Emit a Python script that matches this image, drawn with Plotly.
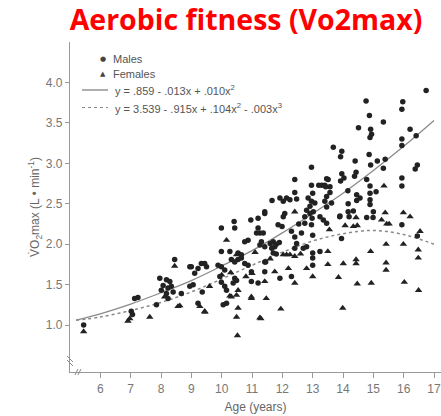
import plotly.graph_objects as go

# ---------------- data ----------------
male_age = [16.74, 15.97, 15.94, 14.76, 14.87, 15.33, 14.51, 14.91, 14.94, 14.89, 16.21, 16.41, 15.94, 15.94,
            13.68, 13.96, 13.92, 14.86, 14.40, 14.91, 15.13, 15.39, 15.33, 16.45, 16.38, 13.46, 13.96, 13.92,
            14.03, 14.43, 14.38, 13.20, 13.30, 13.40, 14.78, 14.89, 15.94, 15.94, 13.57, 14.16, 14.45, 14.56,
            14.45, 14.89, 15.09, 14.89, 14.17, 14.89, 13.46, 14.34,
            13.51, 13.43, 13.57, 13.46, 13.40, 13.62, 12.91, 13.02, 12.80, 13.90, 13.24,
            12.96, 12.41, 12.96, 13.00, 12.41, 12.47, 12.14, 12.25, 12.03, 11.66, 12.85, 12.96, 13.07, 11.42, 11.92,
            15.94, 15.00, 14.78, 14.99, 14.17, 14.20, 13.89, 13.35, 13.46, 13.95, 16.45, 13.24,
            11.42, 11.20, 10.96, 10.41, 10.43, 9.99, 11.20, 11.26, 11.37, 11.15, 12.08, 12.03, 12.74, 12.91, 12.98,
            12.96, 12.74, 12.54, 11.86, 11.99, 10.87, 10.76, 11.31, 11.26, 11.42, 11.60, 11.70, 11.80, 11.90, 11.65,
            11.75, 11.70, 11.80, 9.99, 10.27, 12.41, 12.47, 12.30, 12.63, 13.00, 12.41, 12.69, 12.80, 13.00, 13.00,
            13.00, 9.33, 9.44, 9.50, 9.22, 9.11, 9.88, 9.99, 10.10, 10.32, 10.43, 10.54, 10.65, 10.76, 10.87, 10.54,
            10.65, 10.98, 11.42, 11.45, 11.42, 10.98, 11.20, 11.92, 12.30, 10.16, 10.05, 9.94, 9.99, 10.10, 10.16,
            10.43, 10.49, 10.38, 9.36, 9.22,
            8.45, 8.95, 9.00, 7.96, 8.18, 8.29, 8.07, 8.23, 8.34, 8.01, 8.18, 8.23, 8.40, 8.67, 8.95, 9.06, 7.85,
            7.13, 7.24, 7.02, 7.06, 5.45]
male_vo2 = [3.90, 3.76, 3.67, 3.77, 3.59, 3.51, 3.44, 3.42, 3.36, 3.32, 3.42, 3.34, 3.30, 3.22,
            3.20, 3.15, 3.08, 3.11, 3.03, 2.98, 3.03, 3.05, 2.94, 2.98, 2.93, 2.81, 2.87, 2.78,
            2.82, 2.89, 2.84, 2.73, 2.73, 2.73, 2.80, 2.72, 2.82, 2.72, 2.64, 2.66, 2.61, 2.57,
            2.54, 2.63, 2.65, 2.55, 2.50, 2.49, 2.46, 2.41,
            2.80, 2.71, 2.71, 2.59, 2.53, 2.51, 2.47, 2.40, 2.42, 2.35, 2.34,
            2.95, 2.80, 2.73, 2.63, 2.64, 2.56, 2.57, 2.55, 2.53, 2.54, 2.57, 2.53, 2.51, 2.40, 2.57,
            2.24, 2.40, 2.33, 2.33, 2.40, 2.34, 2.34, 2.30, 2.26, 2.07, 2.10, 1.91,
            2.38, 2.32, 2.30, 2.28, 2.20, 2.20, 2.20, 2.14, 2.14, 2.14, 2.38, 2.34, 2.34, 2.38, 2.32,
            2.24, 2.26, 2.25, 2.24, 2.22, 2.05, 2.03, 2.03, 1.99, 1.97, 2.01, 2.03, 2.00, 2.02, 1.95,
            1.97, 1.89, 1.88, 1.91, 1.91, 2.09, 2.01, 2.16, 2.14, 2.11, 1.95, 1.95, 1.97, 1.89, 1.83,
            1.74, 1.76, 1.76, 1.72, 1.70, 1.64, 1.74, 1.72, 1.68, 1.81, 1.78, 1.81, 1.83, 1.76, 1.74, 1.89,
            1.87, 1.66, 1.78, 1.78, 1.66, 1.54, 1.52, 1.58, 1.60, 1.27, 1.25, 1.60, 1.53, 1.48, 1.43,
            1.58, 1.55, 1.52, 1.41, 1.27,
            1.81, 1.72, 1.72, 1.58, 1.56, 1.54, 1.49, 1.46, 1.48, 1.43, 1.39, 1.33, 1.41, 1.39, 1.48, 1.50, 1.25,
            1.33, 1.34, 1.17, 1.13, 1.00]

female_age = [15.35, 14.34, 14.47, 15.99, 16.21, 15.39, 15.27, 15.44, 15.52, 14.43, 14.07, 13.55, 16.54, 15.42,
              15.99, 16.48, 16.48, 14.91, 13.50, 14.43, 14.43, 14.01, 13.50, 15.42, 15.42, 13.85, 14.47, 14.93,
              16.02, 16.49, 13.99,
              12.41, 10.16, 12.03, 12.14, 12.25, 12.41, 13.00, 11.75, 11.47, 10.98, 11.42, 12.41, 11.95, 11.29,
              10.49, 10.52, 10.54, 10.27, 10.49, 10.54, 9.28, 9.44,
              8.45, 8.56, 7.63, 6.97, 6.91, 5.45, 8.12, 8.62, 9.45, 11.26, 10.98, 10.32, 10.49,
              11.10, 11.60, 12.60, 12.80, 12.20, 11.00, 10.80, 10.00, 9.60, 10.30]
female_vo2 = [2.72, 2.22, 2.23, 2.39, 2.34, 2.39, 2.30, 2.25, 2.25, 2.33, 2.23, 2.18, 2.16, 2.00,
              2.00, 1.93, 1.83, 1.91, 1.91, 1.81, 1.76, 1.76, 1.75, 1.77, 1.68, 1.59, 1.51, 1.52,
              1.53, 1.43, 1.21,
              2.40, 2.05, 1.87, 1.87, 1.87, 1.85, 1.60, 1.66, 1.33, 1.33, 1.54, 1.52, 1.20, 1.08,
              1.10, 0.87, 1.21, 1.36, 1.37, 1.43, 1.23, 1.17,
              1.73, 1.23, 1.10, 1.08, 1.05, 0.92, 1.35, 1.24, 1.16, 1.09, 1.35, 1.35, 1.87,
              1.90, 1.82, 1.88, 1.70, 1.70, 1.64, 1.60, 1.62, 1.48, 1.65]

# fitted curves as drawn in the picture
male_fit_age = [5.2, 6, 7, 8, 9, 10, 11, 12, 13, 14, 15, 16, 17]
male_fit_vo2 = [1.06, 1.14, 1.26, 1.40, 1.55, 1.73, 1.92, 2.14, 2.38, 2.63, 2.91, 3.21, 3.53]
female_fit_age = [5.2, 6, 7, 8, 9, 10, 11, 12, 13, 14, 15, 16, 17]
female_fit_vo2 = [1.06, 1.10, 1.18, 1.28, 1.41, 1.57, 1.74, 1.90, 2.04, 2.13, 2.17, 2.12, 2.00]

x_ticks = [6, 7, 8, 9, 10, 11, 12, 13, 14, 15, 16, 17]
y_ticks = [1.0, 1.5, 2.0, 2.5, 3.0, 3.5, 4.0]
y_tick_text = ["1.0", "1.5", "2.0", "2.5", "3.0", "3.5", "4.0"]

legend_labels = ["Males", "Females",
                 "y = .859 - .013x + .010x<sup>2</sup>",
                 "y = 3.539 - .915x + .104x<sup>2</sup> - .003x<sup>3</sup>"]

# ---------------- figure ----------------
# the page's default body margin is removed (post_script), so the figure fills the window
W, H = 441, 416
ML, MR, MT, MB = 70, 0, 42, 416 - 372
PW, PH = W - ML - MR, H - MT - MB

def px(xp):  # window pixel -> paper x
    return (xp - ML) / PW

def py(yp):  # window pixel -> paper y
    return (H - MB - yp) / PH

INK = "#222222"
fig = go.Figure()
fig.add_trace(go.Scatter(x=male_fit_age, y=male_fit_vo2, mode="lines", line_shape="spline",
                         line=dict(color="#8a8a8a", width=1.3), showlegend=False, hoverinfo="skip"))
fig.add_trace(go.Scatter(x=female_fit_age, y=female_fit_vo2, mode="lines", line_shape="spline",
                         line=dict(color="#8a8a8a", width=1.5, dash="dot"), showlegend=False, hoverinfo="skip"))
fig.add_trace(go.Scatter(x=female_age, y=female_vo2, mode="markers", name="Females",
                         marker=dict(symbol="triangle-up", size=6.5, color=INK), showlegend=False))
fig.add_trace(go.Scatter(x=male_age, y=male_vo2, mode="markers", name="Males",
                         marker=dict(symbol="circle", size=5.5, color=INK), showlegend=False))

annotations = []
shapes = []
lg_font = dict(family="Liberation Sans", size=11, color="#555555")
# legend markers
annotations.append(dict(x=px(103), y=py(59.5), xref="paper", yref="paper", text="●", showarrow=False,
                        font=dict(family="DejaVu Sans", size=7, color="#444444"),
                        xanchor="center", yanchor="middle"))
annotations.append(dict(x=px(103), y=py(73.5), xref="paper", yref="paper", text="▲", showarrow=False,
                        font=dict(family="DejaVu Sans", size=7, color="#444444"),
                        xanchor="center", yanchor="middle"))
rows_y = [59.5, 73.5, 90, 108]
text_x = [111, 111, 113, 113]
for lab, yy, xx in zip(legend_labels, rows_y, text_x):
    annotations.append(dict(x=px(xx), y=py(yy), xref="paper", yref="paper", text=lab, showarrow=False,
                            font=lg_font, xanchor="left", yanchor="middle"))
shapes.append(dict(type="line", xref="paper", yref="paper", x0=px(82), x1=px(108), y0=py(90), y1=py(90),
                   line=dict(color="#777777", width=1.2)))
shapes.append(dict(type="line", xref="paper", yref="paper", x0=px(82), x1=px(108), y0=py(107.5), y1=py(107.5),
                   line=dict(color="#888888", width=1.2, dash="dot")))

# axis break marks
shapes.append(dict(type="line", xref="paper", yref="paper", x0=px(67), x1=px(73), y0=py(356), y1=py(362),
                   line=dict(color="#888888", width=1)))
shapes.append(dict(type="line", xref="paper", yref="paper", x0=px(67), x1=px(73), y0=py(360), y1=py(366),
                   line=dict(color="#888888", width=1)))
shapes.append(dict(type="line", xref="paper", yref="paper", x0=px(75), x1=px(78), y0=py(375), y1=py(369),
                   line=dict(color="#888888", width=1)))
shapes.append(dict(type="line", xref="paper", yref="paper", x0=px(78), x1=px(81), y0=py(375), y1=py(369),
                   line=dict(color="#888888", width=1)))

fig.update_layout(
    width=W, height=H,
    margin=dict(l=ML, r=MR, t=MT, b=MB, autoexpand=False),
    paper_bgcolor="white", plot_bgcolor="white",
    title=dict(text="<b>Aerobic fitness (Vo2max)</b>", xref="container", yref="container",
               x=246 / W, y=1 - 20 / H, xanchor="center", yanchor="middle", automargin=False,
               font=dict(family="Open Sans", size=28.5, color="#ff0000")),
    xaxis=dict(range=[5.0, 17.23], tickvals=x_ticks, ticks="outside", ticklen=5, tickcolor="#999999",
               showline=True, linecolor="#999999", linewidth=1.2, showgrid=False, zeroline=False,
               automargin=False, ticklabeloverflow="allow",
               tickfont=dict(family="Liberation Sans", size=12, color="#777777"),
               title=dict(text="Age (years)", standoff=8,
                          font=dict(family="Liberation Sans", size=12, color="#666666"))),
    yaxis=dict(range=[0.42, 4.5], tickvals=y_ticks, ticktext=y_tick_text, ticks="outside", ticklen=4,
               tickcolor="#999999", showline=True, linecolor="#999999", linewidth=1.2, showgrid=False,
               zeroline=False, automargin=False,
               tickfont=dict(family="Liberation Sans", size=12, color="#777777"),
               title=dict(text="V\u0307O<sub>2</sub>max (L • min<sup>-1</sup>)", standoff=3,
                          font=dict(family="Liberation Sans", size=12, color="#666666"))),
    annotations=annotations, shapes=shapes,
)

fig.write_html("out.html", config={"displayModeBar": False},
               post_script="document.body.style.margin='0px';document.body.style.overflow='hidden';")
